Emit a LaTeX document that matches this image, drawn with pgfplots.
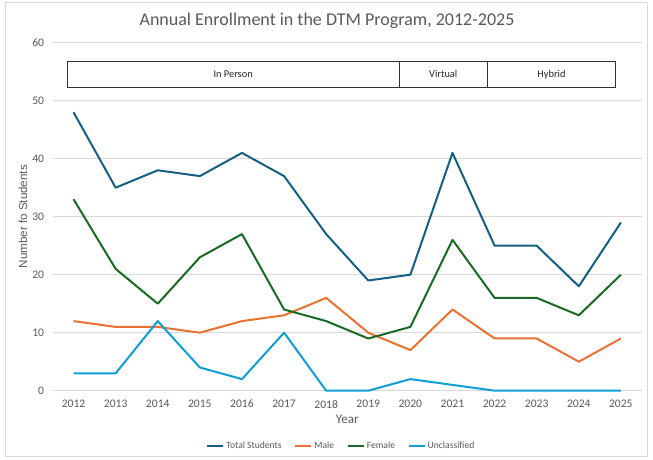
\documentclass[border=0pt]{standalone}
\usepackage{pgfplots}
\pgfplotsset{compat=1.18}
\usepackage{fontspec}
\setmainfont{Carlito}
\newfontfamily\arialfont{Liberation Sans}
\definecolor{totalc}{HTML}{156082}
\definecolor{malec}{HTML}{E97132}
\definecolor{femalec}{HTML}{196B24}
\definecolor{unclc}{HTML}{0F9ED5}
\definecolor{txtgray}{HTML}{595959}
\definecolor{gridgray}{HTML}{D9D9D9}
\begin{document}
\begin{tikzpicture}
% canvas and outer frame
\path[use as bounding box] (0pt,0pt) rectangle (489.75pt,345pt);
\draw[gridgray,line width=0.75pt] (3.75pt,2.25pt) rectangle (485.25pt,342.75pt);
\node[txtgray,font=\fontsize{13.5}{16}\selectfont,anchor=center] at (245.25pt,329.5pt) {Annual Enrollment in the DTM Program, 2012-2025};
\begin{axis}[
  at={(39.375pt,51.975pt)}, anchor=south west,
  scale only axis, width=442.1pt, height=261pt,
  xmin=2011.5, xmax=2025.5, ymin=0, ymax=60,
  xtick={2012,...,2025}, ytick={0,10,...,60},
  axis line style={draw=none},
  major tick length=0pt,
  ymajorgrids, grid style={gridgray,line width=0.75pt},
  /pgf/number format/assume math mode=true,
  /pgf/number format/1000 sep={},
  tick label style={txtgray,font=\fontsize{8.7}{10}\selectfont},
  xticklabel style={yshift=-3.5pt},
  yticklabel style={xshift=-2.8pt},
  xlabel={Year}, ylabel={Number fo Students},
  xlabel style={at={(0.5,0)},anchor=center,yshift=-21.5pt,txtgray,font=\fontsize{9.8}{11}\selectfont},
  ylabel style={at={(0,0.5)},anchor=center,yshift=22.1pt,txtgray,font=\arialfont\fontsize{8.7}{10}\selectfont},
  legend columns=4,
  legend style={at={(0.49,0)},anchor=center,yshift=-41.25pt,draw=none,fill=none,
    text=txtgray,font=\fontsize{7.2}{8}\selectfont,
    /tikz/every even column/.append style={column sep=8pt},
    nodes={inner xsep=1.5pt,inner ysep=1pt}},
  legend image code/.code={\draw[#1] (0pt,0pt) -- (12pt,0pt);},
  every axis plot/.append style={line width=1.5pt,line join=round},
  clip=false,
]
\addplot[totalc] coordinates {(2012,48)(2013,35)(2014,38)(2015,37)(2016,41)(2017,37)(2018,27)(2019,19)(2020,20)(2021,41)(2022,25)(2023,25)(2024,18)(2025,29)};
\addlegendentry{Total Students}
\addplot[malec] coordinates {(2012,12)(2013,11)(2014,11)(2015,10)(2016,12)(2017,13)(2018,16)(2019,10)(2020,7)(2021,14)(2022,9)(2023,9)(2024,5)(2025,9)};
\addlegendentry{Male}
\addplot[femalec] coordinates {(2012,33)(2013,21)(2014,15)(2015,23)(2016,27)(2017,14)(2018,12)(2019,9)(2020,11)(2021,26)(2022,16)(2023,16)(2024,13)(2025,20)};
\addlegendentry{Female}
\addplot[unclc] coordinates {(2012,3)(2013,3)(2014,12)(2015,4)(2016,2)(2017,10)(2018,0)(2019,0)(2020,2)(2021,1)(2022,0)(2023,0)(2024,0)(2025,0)};
\addlegendentry{Unclassified}
% delivery-mode bands
\draw[black!80,line width=0.6pt,fill=white] (axis cs:2011.85,52.24) rectangle (axis cs:2019.73,56.84);
\draw[black!80,line width=0.6pt,fill=white] (axis cs:2019.73,52.24) rectangle (axis cs:2021.82,56.84);
\draw[black!80,line width=0.6pt,fill=white] (axis cs:2021.82,52.24) rectangle (axis cs:2024.87,56.84);
\node[font=\fontsize{7.8}{9}\selectfont,text=black!85] at (axis cs:2015.79,54.54) {In Person};
\node[font=\fontsize{7.8}{9}\selectfont,text=black!85] at (axis cs:2020.78,54.54) {Virtual};
\node[font=\fontsize{7.8}{9}\selectfont,text=black!85] at (axis cs:2023.35,54.54) {Hybrid};
\end{axis}
\end{tikzpicture}
\end{document}
